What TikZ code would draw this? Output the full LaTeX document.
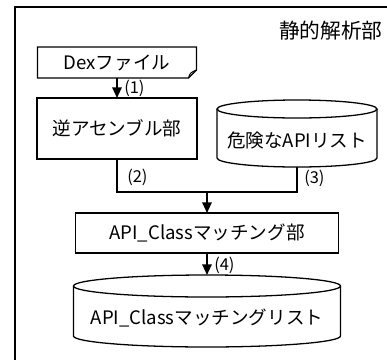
\documentclass[tikz,border=0pt]{standalone}
\usepackage{fontspec}
\setmainfont{Noto Sans CJK JP}
\usepackage{tikz}
\usetikzlibrary{calc}
\usetikzlibrary{arrows.meta}

\tikzset{
  unitbox/.style={draw, line width=0.9pt, inner sep=0pt, outer sep=0pt, font=\fontsize{13}{15}\selectfont},
  listlabel/.style={inner sep=0pt, outer sep=0pt, font=\fontsize{13}{15}\selectfont},
  flowline/.style={line width=1.3pt},
  flowarrow/.style={line width=1.3pt, -{Triangle[length=7.5pt,width=6.6pt]}},
  steplabel/.style={inner sep=0pt, anchor=west, font=\fontsize{11.5}{13}\selectfont}
}

\begin{document}
\begin{tikzpicture}[x=0.7pt, y=-0.7pt]
            \useasboundingbox (0,0) rectangle (387,360);
            \clip (0,0) rectangle (387,360);

            % Drawing frame of the static analysis part
            \draw [line width=1.6pt] (15,420) -- (15,7) -- (420,7);%
            \node (title) [anchor=east, inner sep=0pt, font=\fontsize{14.5}{16}\selectfont] at (383,31) {静的解析部};%

            % Drawing Dex file with folded corner
            \node (dex) [listlabel, minimum width=111.3pt, minimum height=21.7pt] at (117,62.5) {Dexファイル};%
            \draw [line width=0.9pt] (dex.north west) -- (dex.north east) -- ($(dex.south east)+(0,-8)$) -- ($(dex.south east)+(-8,0)$) -- (dex.south west) -- cycle;%
            \draw [line width=0.7pt] ($(dex.south east)+(0,-8)$) .. controls ($(dex.south east)+(-5,-6)$) and ($(dex.south east)+(-7,-5)$) .. ($(dex.south east)+(-8,0)$);%

            % Drawing box of the disassembler
            \node (disasm) [unitbox, minimum width=112pt, minimum height=42.7pt] at (117,128.5) {逆アセンブル部};%

            % Drawing cylinder of the dangerous API list
            \draw [line width=0.9pt] (217,109) -- (217,158) arc [start angle=180, end angle=0, x radius=80, y radius=9] -- (377,109);%
            \draw [line width=0.9pt] (297,109) ellipse [x radius=80, y radius=9];%
            \node (danger) [listlabel, minimum width=112pt, minimum height=37.8pt] at (297,140) {危険なAPIリスト};%

            % Drawing box of the API_Class matching
            \node (match) [unitbox, minimum width=184.1pt, minimum height=28pt] at (207,233) {API\_Classマッチング部};%

            % Drawing cylinder of the API_Class matching list
            \draw [line width=0.9pt] (73.5,286) -- (73.5,336) arc [start angle=180, end angle=0, x radius=133.5, y radius=11] -- (340.5,286);%
            \draw [line width=0.9pt] (207,286) ellipse [x radius=133.5, y radius=11];%
            \node (matchlist) [listlabel, minimum width=186.9pt, minimum height=60.2pt] at (207,318) {API\_Classマッチングリスト};%

            % Drawing connectors (1) to (4)
            \coordinate (merge) at (207,192);%
            \draw [flowarrow] (dex) -- (disasm);%
            \draw [flowline] (disasm.south) |- (merge) -| (danger.south);%
            \draw [flowarrow] (merge) -- (match);%
            \draw [flowarrow] (match) -- (matchlist);%

            % Marking steps
            \node (step1) [steplabel] at (124,88) {(1)};%
            \node (step2) [steplabel] at (127,177) {(2)};%
            \node (step3) [steplabel] at (304,178) {(3)};%
            \node (step4) [steplabel] at (214,265) {(4)};%
\end{tikzpicture}
\end{document}
